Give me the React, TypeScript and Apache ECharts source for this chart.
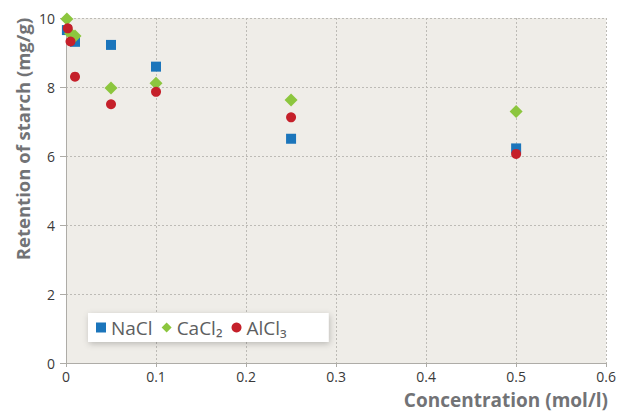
import React, { useEffect, useRef } from "react";
import * as echarts from "echarts";

const xTicks = [0, 0.1, 0.2, 0.3, 0.4, 0.5, 0.6];
const yTicks = [0, 2, 4, 6, 8, 10];

const naclX = [0.001, 0.01, 0.05, 0.1, 0.25, 0.5];
const naclY = [9.65, 9.31, 9.22, 8.59, 6.5, 6.22];

const cacl2X = [0.001, 0.005, 0.01, 0.05, 0.1, 0.25, 0.5];
const cacl2Y = [9.97, 9.55, 9.48, 7.97, 8.11, 7.62, 7.29];

const alcl3X = [0.002, 0.005, 0.01, 0.05, 0.1, 0.25, 0.5];
const alcl3Y = [9.7, 9.32, 8.3, 7.5, 7.86, 7.12, 6.06];

const xTitle = "Concentration (mol/l)";
const yTitle = "Retention of starch (mg/g)";

const pairs = (xs: number[], ys: number[]) => xs.map((x, i) => [x, ys[i]]);

export default function App() {
  const ref = useRef<HTMLDivElement>(null);
  useEffect(() => {
    if (!ref.current) return;
    const chart = echarts.init(ref.current, null, { renderer: "svg" });
    const font = "'Open Sans', 'Noto Sans', sans-serif";
    const gray = "#727376";
    const axisCol = "#aeaca7";
    chart.setOption({
      animation: false,
      backgroundColor: "#ffffff",
      textStyle: { fontFamily: font },
      grid: {
        left: 66,
        right: 12,
        top: 18,
        bottom: 50,
        show: true,
        backgroundColor: "#efede8",
        borderWidth: 0,
      },
      graphic: [
        {
          type: "text",
          x: 608,
          y: 400,
          style: {
            text: xTitle,
            align: "right",
            verticalAlign: "middle",
            fill: gray,
            fontSize: 19,
            fontWeight: "bold",
            fontFamily: font,
          },
        },
        {
          type: "text",
          x: 22,
          y: 139,
          rotation: Math.PI / 2,
          style: {
            text: yTitle,
            align: "center",
            verticalAlign: "middle",
            fill: gray,
            fontSize: 18.5,
            fontWeight: "bold",
            fontFamily: font,
          },
        },
      ],
      xAxis: {
        type: "value",
        min: 0,
        max: 0.6,
        interval: 0.1,
        axisLine: { show: true, lineStyle: { color: axisCol, width: 1 } },
        axisTick: { show: true, length: 4, lineStyle: { color: axisCol } },
        axisLabel: {
          color: "#3a3a3a",
          fontSize: 14,
          margin: 6,
          formatter: (v: number) => {
            const t = xTicks.find((x) => Math.abs(x - v) < 1e-9);
            return t === undefined ? "" : String(t);
          },
        },
        splitLine: { show: true, lineStyle: { color: "#bdbbb6", type: [2, 2], width: 1 } },
      },
      yAxis: {
        type: "value",
        min: 0,
        max: 10,
        interval: 2,
        axisLine: { show: true, lineStyle: { color: axisCol, width: 1 } },
        axisTick: { show: true, length: 6, lineStyle: { color: axisCol } },
        axisLabel: {
          color: "#3a3a3a",
          fontSize: 14,
          margin: 11,
          formatter: (v: number) => (yTicks.includes(v) ? String(v) : ""),
        },
        splitLine: { show: true, lineStyle: { color: "#bdbbb6", type: [2, 2], width: 1 } },
      },
      legend: {
        left: 88,
        top: 313,
        orient: "horizontal",
        backgroundColor: "#ffffff",
        padding: [5, 42, 5, 8],
        itemGap: 9,
        itemWidth: 10,
        itemHeight: 10,
        shadowBlur: 6,
        shadowColor: "rgba(0,0,0,0.22)",
        shadowOffsetX: 1,
        shadowOffsetY: 2,
        textStyle: { color: "#5d5e60", fontSize: 19, fontFamily: font },
        data: [
          { name: "NaCl", icon: "rect" },
          { name: "CaCl₂", icon: "diamond" },
          { name: "AlCl₃", icon: "circle" },
        ],
      },
      series: [
        {
          name: "NaCl",
          type: "scatter",
          symbol: "rect",
          symbolSize: 10,
          itemStyle: { color: "#1b75bb", opacity: 1 },
          data: pairs(naclX, naclY),
        },
        {
          name: "CaCl₂",
          type: "scatter",
          symbol: "diamond",
          symbolSize: 13,
          itemStyle: { color: "#8cc63e", opacity: 1 },
          data: pairs(cacl2X, cacl2Y),
        },
        {
          name: "AlCl₃",
          type: "scatter",
          symbol: "circle",
          symbolSize: 10,
          itemStyle: { color: "#c5202a", opacity: 1 },
          data: pairs(alcl3X, alcl3Y),
        },
      ],
    });
    return () => chart.dispose();
  }, []);
  return <div ref={ref} style={{ width: 619, height: 413, position: "fixed", left: 0, top: 0 }} />;
}
